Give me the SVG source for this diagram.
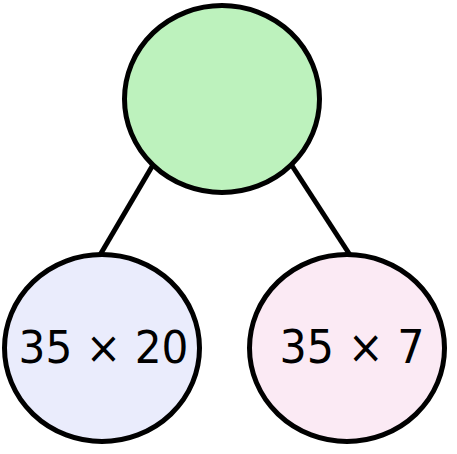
<svg xmlns="http://www.w3.org/2000/svg" width="457" height="454" viewBox="0 0 457 454">
  <style>
    .node { stroke: #000; stroke-width: 5; }
    .edge { stroke: #000; stroke-width: 5; fill: none; }
    .label { font-family: "DejaVu Sans", Verdana, sans-serif; fill: #000; text-anchor: middle; }
  </style>
  <rect width="457" height="454" fill="#ffffff"/>
  <g id="connectors">
    <line class="edge" x1="157" y1="158" x2="100" y2="255"/>
    <line class="edge" x1="287" y1="158" x2="350" y2="255"/>
  </g>
  <g id="root">
    <ellipse class="node" cx="222" cy="99" rx="97.5" ry="93.5" fill="#bdf2bd"/>
  </g>
  <g id="left">
    <ellipse class="node" cx="102" cy="348" rx="97.5" ry="93.5" fill="#eaecfc"/>
    <text class="label" x="103.5" y="363.3" font-size="44" textLength="170" lengthAdjust="spacingAndGlyphs">35 × 20</text>
  </g>
  <g id="right">
    <ellipse class="node" cx="347" cy="348" rx="97.5" ry="93.5" fill="#fbeaf4"/>
    <text class="label" x="352" y="362.7" font-size="47" textLength="145" lengthAdjust="spacingAndGlyphs">35 × 7</text>
  </g>
</svg>
